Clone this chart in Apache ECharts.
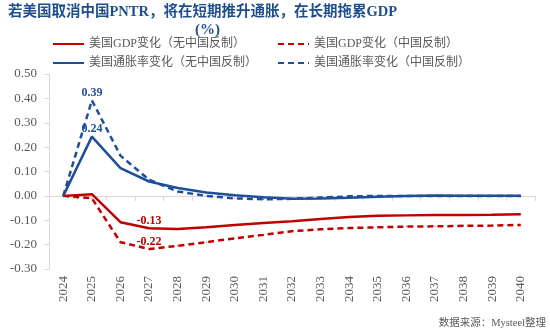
<!DOCTYPE html>
<html><head><meta charset="utf-8">
<script src="https://cdn.jsdelivr.net/npm/echarts@6/dist/echarts.min.js"></script>
<style>html,body{margin:0;padding:0;background:#fff}#c{width:550px;height:331px}</style>
</head><body><div id="c"></div>
<script>
var years = ['2024','2025','2026','2027','2028','2029','2030','2031','2032','2033','2034','2035','2036','2037','2038','2039','2040'];
var gdpNoRet   = [0, 0.007, -0.108, -0.133, -0.136, -0.129, -0.119, -0.111, -0.104, -0.095, -0.087, -0.082, -0.080, -0.078, -0.078, -0.077, -0.075];
var gdpRet     = [0, -0.010, -0.190, -0.218, -0.205, -0.190, -0.174, -0.160, -0.145, -0.137, -0.132, -0.129, -0.126, -0.125, -0.123, -0.122, -0.119];
var cpiNoRet   = [0, 0.243, 0.114, 0.059, 0.032, 0.014, 0.003, -0.006, -0.012, -0.011, -0.008, -0.004, -0.001, 0.002, 0.001, 0.001, 0.001];
var cpiRet     = [0, 0.392, 0.165, 0.066, 0.018, 0.000, -0.010, -0.014, -0.012, -0.007, -0.002, 0.000, 0.000, 0.000, 0.000, 0.000, 0.000];
var names = ['美国GDP变化（无中国反制）','美国GDP变化（中国反制）','美国通胀率变化（无中国反制）','美国通胀率变化（中国反制）'];
var labelIdx = [3, 3, 1, 1];

var RED = '#C00000', BLUE = '#1F4E9A';
var FONT = '"Liberation Serif", "Noto Sans CJK SC", serif';
function mk(name, data, color, dashed, li) {
  return {
    name: name, type: 'line', xAxisIndex: 0, symbol: 'circle', symbolSize: 1, showSymbol: true,
    labelLayout: { hideOverlap: false },
    lineStyle: { color: color, width: 2.5, type: dashed ? [6, 4] : 'solid' },
    itemStyle: { color: color },
    emphasis: { disabled: true },
    data: data.map(function (v, i) {
      if (i === li) return { value: v, label: { show: true, position: 'top', distance: 1, color: color, fontWeight: 'bold', fontSize: 12, fontFamily: FONT, formatter: function (p) { return Number(p.value).toFixed(2); } } };
      return v;
    }),
    z: dashed ? 3 : 2
  };
}
var legendCommon = { orient: 'vertical', padding: 0, itemWidth: 31, itemHeight: 12, itemGap: 7,
  itemStyle: { opacity: 0 }, textStyle: { color: '#595959', fontSize: 12, fontFamily: FONT } };
var chart = echarts.init(document.getElementById('c'), null, { renderer: 'canvas' });
chart.setOption({
  animation: false,
  backgroundColor: '#fff',
  title: [
    { text: '若美国取消中国PNTR，将在短期推升通胀，在长期拖累GDP', left: 3, top: 0, textStyle: { color: '#1F4E8C', fontWeight: 'bold', fontSize: 14.5, fontFamily: FONT } },
    { text: '(%)', left: 190, top: 18, textStyle: { color: '#1F4E8C', fontWeight: 'bold', fontSize: 15, fontFamily: FONT } }
  ],
  legend: [
    Object.assign({ left: 52, top: 38, data: [names[0], names[2]] }, legendCommon),
    Object.assign({ left: 277, top: 38, data: [names[1], names[3]] }, legendCommon)
  ],
  grid: { left: 49, right: 15, top: 74, bottom: 62, containLabel: false },
  xAxis: [
    { type: 'category', data: years, boundaryGap: true, position: 'bottom',
      axisLine: { onZero: true, lineStyle: { color: '#D9D9D9', width: 1 } },
      axisTick: { show: true, interval: 0, length: 5, lineStyle: { color: '#D9D9D9' } },
      axisLabel: { show: false }, splitLine: { show: false } },
    { type: 'category', data: years, boundaryGap: true, position: 'bottom',
      axisLine: { show: false }, axisTick: { show: false }, splitLine: { show: false },
      axisLabel: { show: true, interval: 0, rotate: 90, margin: 7, color: '#595959', fontSize: 13, fontFamily: FONT } }
  ],
  yAxis: {
    type: 'value', min: -0.3, max: 0.5, interval: 0.1,
    axisLine: { show: true, lineStyle: { color: '#D9D9D9' } },
    axisTick: { show: true, length: 5, lineStyle: { color: '#D9D9D9' } },
    splitLine: { show: false },
    axisLabel: { color: '#595959', fontSize: 13, fontFamily: FONT, margin: 12, formatter: function (v) { return v.toFixed(2); } }
  },
  graphic: [
    { type: 'text', right: 4, top: 318, style: { text: '数据来源：Mysteel整理', fill: '#595959', font: '10.5px ' + FONT } }
  ],
  series: [
    mk(names[0], gdpNoRet, RED, false, labelIdx[0]),
    mk(names[1], gdpRet, RED, true, labelIdx[1]),
    mk(names[2], cpiNoRet, BLUE, false, labelIdx[2]),
    mk(names[3], cpiRet, BLUE, true, labelIdx[3])
  ]
});
</script></body></html>
